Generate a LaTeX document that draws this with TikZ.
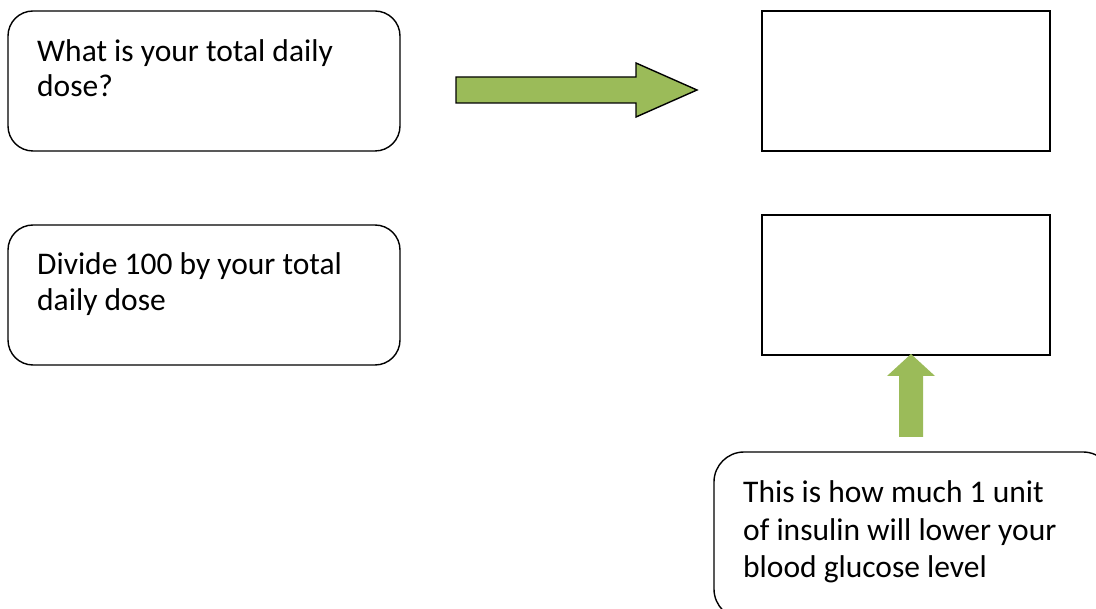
\documentclass[tikz,border=0pt]{standalone}
\usepackage{fontspec}
\setmainfont{Carlito}
\definecolor{arrowgreen}{HTML}{9BBB59}
\tikzset{
  rbox/.style={draw=black, line width=1.4pt, rounded corners=25pt},
  sbox/.style={draw=black, line width=1.4pt},
  txt/.style={anchor=base west, inner sep=0pt, font=\fontsize{31.5}{36}\selectfont},
  blockarrow/.style={fill=arrowgreen, draw=black, line width=1.4pt, line join=miter},
  uparrow/.style={fill=arrowgreen, draw=none}
}
\begin{document}
\begin{tikzpicture}[x=1pt,y=-1pt]
\useasboundingbox (0,0) rectangle (1096,609);
\clip (0,0) rectangle (1096,609);
% left boxes
\draw[rbox] (8,11) rectangle (400,151);
\node[txt] (q1a) at (37,62) {What is your total daily};
\node[txt] (q1b) at (37,97) {dose?};
\draw[rbox] (8,225) rectangle (400,365);
\node[txt] (q2a) at (37,275) {Divide 100 by your total};
\node[txt] (q2b) at (37,311) {daily dose};
% right boxes
\draw[sbox] (762,11) rectangle (1050,151);
\draw[sbox] (762,215) rectangle (1050,355);
% right arrow
\draw[blockarrow] (456,77) -- (636,77) -- (636,63) -- (697,90) -- (636,117) -- (636,103) -- (456,103) -- cycle;
% up arrow
\fill[uparrow] (899,437) -- (899,376) -- (887,376) -- (911,354) -- (935,376) -- (923,376) -- (923,437) -- cycle;
% bottom box
\draw[rbox, rounded corners=30pt] (714,452) rectangle (1113,619);
\node[txt] (n1) at (743,503) {This is how much 1 unit};
\node[txt] (n2) at (743,540) {of insulin will lower your};
\node[txt] (n3) at (743,577) {blood glucose level};
\end{tikzpicture}
\end{document}
